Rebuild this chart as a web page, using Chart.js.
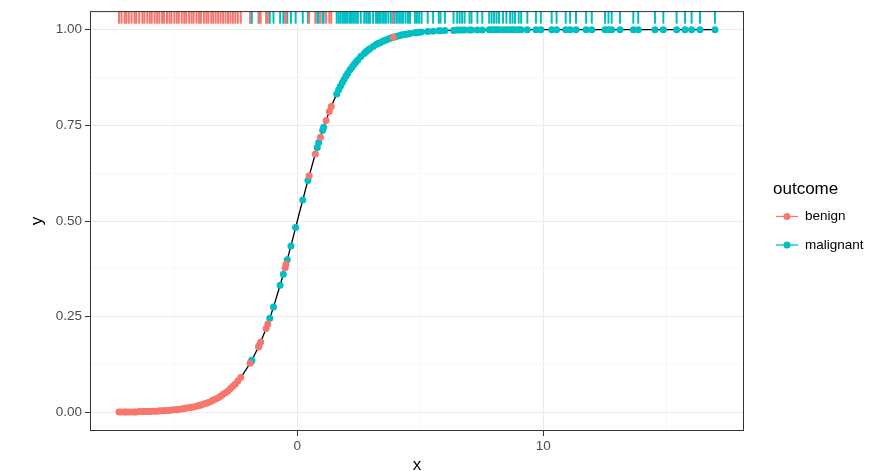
<!DOCTYPE html>
<html>
<head>
<meta charset="utf-8">
<script src="https://cdn.jsdelivr.net/npm/chart.js@4.4.1/dist/chart.umd.min.js"></script>
<style>
html,body{margin:0;padding:0;background:#fff;}
#wrap{position:relative;width:869px;height:471px;}
</style>
</head>
<body>
<div id="wrap"><canvas id="chart" width="869" height="471"></canvas></div>
<script>
/* ================= Data ================= */
const benignX = [-7.25,-7.15,-7.02,-6.95,-6.85,-6.74,-6.62,-6.55,-6.43,-6.3,
  -6.22,-6.1,-6.0,-5.92,-5.8,-5.7,-5.61,-5.5,-5.42,-5.3,
  -5.2,-5.12,-5.0,-4.9,-4.82,-4.7,-4.6,-4.52,-4.4,-4.3,
  -4.22,-4.1,-4.0,-3.92,-3.8,-3.7,-3.62,-3.5,-3.42,-3.32,
  -3.22,-3.12,-3.02,-2.92,-2.82,-2.72,-2.62,-2.52,-2.42,-2.3,
  -1.92,-1.58,-1.49,-1.27,-1.2,-0.5,-0.46,0.48,0.73,0.94,
  1.17,1.3,1.38,3.9];
const benignY = [0.001,0.001,0.001,0.001,0.001,0.001,0.001,0.001,0.002,0.002,
  0.002,0.002,0.002,0.003,0.003,0.003,0.004,0.004,0.004,0.005,
  0.005,0.006,0.007,0.007,0.008,0.009,0.010,0.011,0.012,0.013,
  0.014,0.016,0.018,0.019,0.022,0.024,0.026,0.029,0.032,0.035,
  0.038,0.042,0.047,0.051,0.056,0.062,0.068,0.074,0.082,0.091,
  0.128,0.171,0.184,0.219,0.231,0.378,0.387,0.618,0.675,0.719,
  0.763,0.786,0.799,0.980];

const malignantX = [-1.88,-1.85,-1.56,-1.12,-0.97,-0.7,-0.57,-0.41,-0.26,-0.07,
  0.22,0.43,0.81,0.87,1.03,1.07,1.6,1.68,1.75,1.83,
  1.9,1.98,2.05,2.14,2.22,2.3,2.38,2.46,2.58,2.72,
  2.8,2.88,2.95,3.08,3.2,3.28,3.36,3.45,3.52,3.6,
  3.7,3.8,3.88,3.96,4.05,4.14,4.22,4.3,4.4,4.5,
  4.58,4.78,4.86,4.95,5.05,5.3,5.52,5.75,5.82,6.0,
  6.35,6.5,6.6,6.7,6.8,7.0,7.08,7.32,7.52,7.8,
  7.9,8.0,8.1,8.2,8.36,8.5,8.65,8.75,8.85,9.0,
  9.1,9.35,9.7,9.9,10.34,10.54,10.91,11.09,11.33,11.74,
  11.97,12.51,12.65,12.78,13.12,13.66,13.86,14.54,14.88,15.42,
  15.76,16.03,16.37,16.98];
const malignantY = [0.132,0.136,0.174,0.246,0.275,0.332,0.361,0.399,0.435,0.483,
  0.555,0.606,0.692,0.705,0.737,0.745,0.832,0.843,0.852,0.862,
  0.870,0.879,0.886,0.895,0.902,0.909,0.915,0.921,0.930,0.938,
  0.943,0.947,0.950,0.956,0.961,0.964,0.966,0.969,0.971,0.973,
  0.976,0.978,0.980,0.981,0.983,0.984,0.986,0.987,0.988,0.989,
  0.990,0.992,0.992,0.993,0.994,0.995,0.996,0.997,0.997,0.998,
  0.998,0.999,0.999,0.999,0.999,0.999,0.999,0.999,0.999,1.000,
  1.000,1.000,1.000,1.000,1.000,1.000,1.000,1.000,1.000,1.000,
  1.000,1.000,1.000,1.000,1.000,1.000,1.000,1.000,1.000,1.000,
  1.000,1.000,1.000,1.000,1.000,1.000,1.000,1.000,1.000,1.000,
  1.000,1.000,1.000,1.000];

const xBreaks = [0, 10];
const xMinor = [-5, 5, 15];
const yBreaks = [0, 0.25, 0.5, 0.75, 1];
const yMinor = [0.125, 0.375, 0.625, 0.875];
const yLabels = ['0.00', '0.25', '0.50', '0.75', '1.00'];

/* ================= Setup ================= */
const RED = '#F8766D', TEAL = '#00BFC4';
const FONT = "'Liberation Sans', Arial, Helvetica, sans-serif";
Chart.defaults.font.family = FONT;

const toPts = (xs, ys) => xs.map((x, i) => ({x: x, y: ys[i]}));
const benignPts = toPts(benignX, benignY);
const malignantPts = toPts(malignantX, malignantY);
const curvePts = benignPts.concat(malignantPts).sort((a, b) => a.x - b.x);

const gridColor = isMajor => isMajor ? '#ebebeb' : '#f2f2f2';

const ggExtras = {
  id: 'ggExtras',
  afterDatasetsDraw(chart){
    const {ctx, chartArea: a, scales: {x}} = chart;
    const len = (a.bottom - a.top) * 0.03;
    ctx.save();
    ctx.lineWidth = 2;
    [[malignantX, TEAL], [benignX, RED]].forEach(([xs, col]) => {
      ctx.strokeStyle = col;
      xs.forEach(v => {
        const px = x.getPixelForValue(v);
        ctx.beginPath();
        ctx.moveTo(px, a.top);
        ctx.lineTo(px, a.top + len);
        ctx.stroke();
      });
    });
    // panel border
    ctx.strokeStyle = '#333333';
    ctx.lineWidth = 1;
    ctx.strokeRect(a.left + 0.5, a.top + 0.5, a.right - a.left - 1, a.bottom - a.top - 1);
    ctx.restore();
  },
  afterDraw(chart){
    const {ctx, chartArea: a} = chart;
    ctx.save();
    ctx.fillStyle = '#000';
    ctx.textBaseline = 'middle';
    // axis titles
    ctx.font = '17px ' + FONT;
    ctx.textAlign = 'center';
    ctx.fillText('x', (a.left + a.right) / 2, 465);
    ctx.save();
    ctx.translate(37, (a.top + a.bottom) / 2);
    ctx.rotate(-Math.PI / 2);
    ctx.fillText('y', 0, 0);
    ctx.restore();
    // legend
    ctx.textAlign = 'left';
    ctx.fillText('outcome', 773, 189);
    ctx.font = '13.5px ' + FONT;
    [['benign', RED, 216.5], ['malignant', TEAL, 245]].forEach(([lab, col, y]) => {
      ctx.strokeStyle = col;
      ctx.lineWidth = 1.3;
      ctx.beginPath();
      ctx.moveTo(776, y);
      ctx.lineTo(798, y);
      ctx.stroke();
      ctx.fillStyle = col;
      ctx.beginPath();
      ctx.arc(787, y, 3.5, 0, Math.PI * 2);
      ctx.fill();
      ctx.fillStyle = '#000';
      ctx.fillText(lab, 805, y);
    });
    ctx.restore();
  }
};

/* ================= Chart ================= */
const ctx = document.getElementById('chart');

let chart = new Chart(ctx, {
  type: 'scatter',
  data: {
    datasets: [
      {label: 'benign', data: benignPts, backgroundColor: RED, borderColor: RED,
       pointRadius: 3.5, pointBorderWidth: 0, order: 1},
      {label: 'malignant', data: malignantPts, backgroundColor: TEAL, borderColor: TEAL,
       pointRadius: 3.5, pointBorderWidth: 0, order: 2},
      {label: 'fit', data: curvePts, showLine: true, borderColor: '#000', borderWidth: 1.3,
       pointRadius: 0, order: 3}
    ]
  },
  options: {
    responsive: false,
    animation: false,
    devicePixelRatio: 1,
    events: [],
    layout: {padding: {top: 11, right: 125, bottom: 0, left: 0}},
    plugins: {legend: {display: false}, tooltip: {enabled: false}},
    scales: {
      x: {
        type: 'linear', min: -8.43, max: 18.16,
        afterFit: s => { s.height = 40; },
        afterBuildTicks: s => { s.ticks = xMinor.concat(xBreaks).sort((a, b) => a - b).map(v => ({value: v})); },
        border: {display: false},
        grid: {
          color: c => gridColor(xBreaks.includes(c.tick.value)),
          lineWidth: c => xBreaks.includes(c.tick.value) ? 1 : 0.6,
          tickColor: c => xBreaks.includes(c.tick.value) ? '#333333' : 'rgba(0,0,0,0)',
          tickLength: 5, tickWidth: 1
        },
        ticks: {
          callback: v => xBreaks.includes(v) ? String(v) : '',
          color: '#4d4d4d', font: {size: 13.5}, padding: 2,
          maxRotation: 0, autoSkip: false
        }
      },
      y: {
        type: 'linear', min: -0.0488, max: 1.0486,
        afterFit: s => { s.width = 90; },
        afterBuildTicks: s => { s.ticks = yMinor.concat(yBreaks).sort((a, b) => a - b).map(v => ({value: v})); },
        border: {display: false},
        grid: {
          color: c => gridColor(yBreaks.includes(c.tick.value)),
          lineWidth: c => yBreaks.includes(c.tick.value) ? 1 : 0.6,
          tickColor: c => yBreaks.includes(c.tick.value) ? '#333333' : 'rgba(0,0,0,0)',
          tickLength: 5, tickWidth: 1
        },
        ticks: {
          callback: v => yBreaks.includes(v) ? yLabels[yBreaks.indexOf(v)] : '',
          color: '#4d4d4d', font: {size: 13.5}, padding: 3, autoSkip: false
        }
      }
    }
  },
  plugins: [ggExtras]
});
</script>
</body>
</html>
